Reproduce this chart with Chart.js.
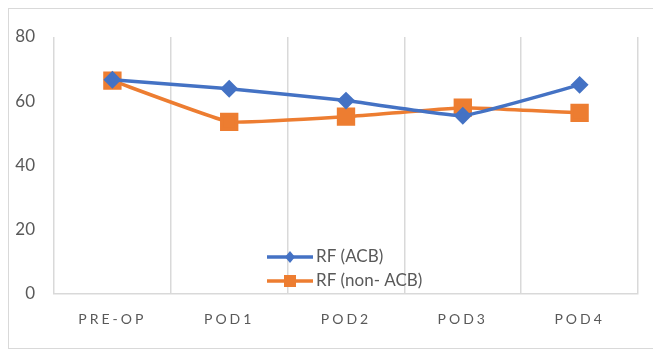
<!DOCTYPE html>
<html>
<head>
<meta charset="utf-8">
<script src="https://cdn.jsdelivr.net/npm/chart.js@4/dist/chart.umd.min.js"></script>
<style>
  html, body { margin: 0; padding: 0; background: #fff; overflow: hidden; }
  #frame { position: absolute; left: 8px; top: 8px; width: 670px; height: 341px; border: 1px solid #d9d9d9; box-sizing: border-box; }
  #wrap { position: absolute; left: 0; top: 0; width: 653px; height: 351px; }
</style>
</head>
<body>
<div id="frame"></div>
<div id="wrap"><canvas id="chart" width="653" height="351"></canvas></div>
<script>
const categories = ['PRE-OP', 'POD1', 'POD2', 'POD3', 'POD4'];
const rfAcb = [66.7, 63.9, 60.2, 55.5, 65.1];
const rfNonAcb = [66.4, 53.6, 55.2, 58.0, 56.4];
const yTicks = [0, 20, 40, 60, 80];

const gray = '#595959';
const grid = '#d9d9d9';

// spaced-out category labels like the original
const spacedLabels = {
    id: 'spacedLabels',
    beforeDraw: function (chart) {
        const x = chart.scales.x;
        if (x._spaced) return;
        const orig = x.drawLabels;
        x.drawLabels = function (area) {
            const ctx = this.ctx;
            ctx.save();
            ctx.letterSpacing = '3px';
            orig.call(this, area);
            ctx.restore();
        };
        x._spaced = true;
    }
};

// legend inside the plot, line + marker samples
const innerLegend = {
    id: 'innerLegend',
    afterDraw: function (chart) {
        const ctx = chart.ctx;
        const x0 = 267, x1 = 313, rows = [257, 281];
        chart.data.datasets.forEach(function (ds, i) {
            const y = rows[i];
            ctx.save();
            ctx.strokeStyle = ds.borderColor;
            ctx.lineWidth = 3.5;
            ctx.beginPath();
            ctx.moveTo(x0, y);
            ctx.lineTo(x1, y);
            ctx.stroke();
            ctx.fillStyle = ds.borderColor;
            const cx = (x0 + x1) / 2;
            if (ds.pointStyle === 'rectRot') {
                ctx.beginPath();
                ctx.moveTo(cx, y - 6);
                ctx.lineTo(cx + 5, y);
                ctx.lineTo(cx, y + 6);
                ctx.lineTo(cx - 5, y);
                ctx.closePath();
                ctx.fill();
            } else {
                ctx.fillRect(cx - 6, y - 6, 12, 12);
            }
            ctx.fillStyle = gray;
            ctx.font = '17px Lato';
            ctx.textBaseline = 'middle';
            ctx.fillText(ds.label, x1 + 3, y);
            ctx.restore();
        });
    }
};

new Chart(document.getElementById('chart'), {
    type: 'line',
    data: {
        labels: categories,
        datasets: [{
            label: 'RF (ACB)',
            data: rfAcb,
            borderColor: '#4472C4',
            backgroundColor: '#4472C4',
            borderWidth: 3.5,
            pointStyle: 'rectRot',
            pointRadius: 6.5,
            pointHoverRadius: 6.5,
            tension: 0.1
        }, {
            label: 'RF (non- ACB)',
            data: rfNonAcb,
            borderColor: '#ED7D31',
            backgroundColor: '#ED7D31',
            borderWidth: 3.5,
            pointStyle: 'rect',
            pointRadius: 10.5,
            pointHoverRadius: 10.5,
            tension: 0.1
        }]
    },
    options: {
        responsive: false,
        animation: false,
        layout: { padding: { left: 8, top: 37, right: 15, bottom: 0 } },
        plugins: {
            legend: { display: false },
            tooltip: { enabled: false }
        },
        scales: {
            x: {
                offset: true,
                grid: { color: grid, lineWidth: 1.5, drawTicks: false, offset: true },
                border: { color: grid, width: 1.5 },
                ticks: { color: gray, font: { family: 'Lato', size: 14 }, padding: 17 },
                afterFit: function (s) { s.height = 57; }
            },
            y: {
                min: 0,
                max: 80,
                afterBuildTicks: function (s) { s.ticks = yTicks.map(function (v) { return { value: v }; }); },
                grid: { display: false, drawTicks: false },
                border: { display: false },
                ticks: { color: gray, font: { family: 'Lato', size: 17 }, padding: 19 },
                afterFit: function (s) { s.width = 46; }
            }
        }
    },
    plugins: [spacedLabels, innerLegend]
});
</script>
</body>
</html>
